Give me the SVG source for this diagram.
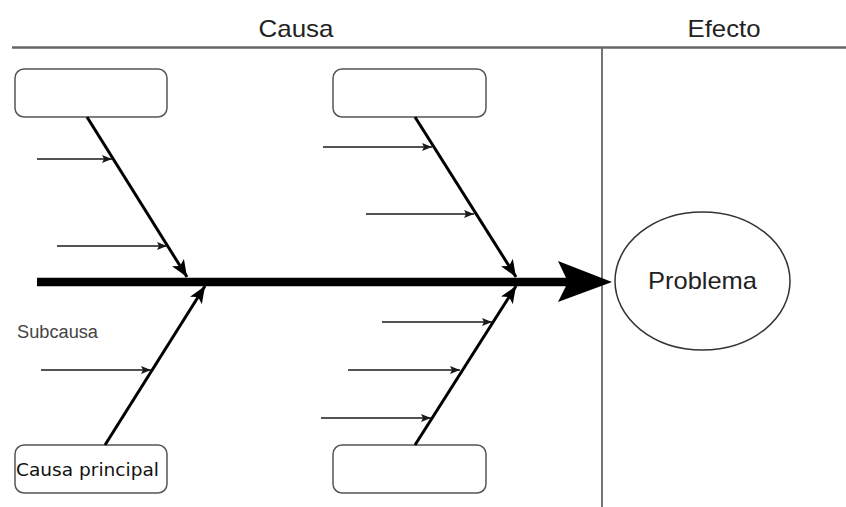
<svg xmlns="http://www.w3.org/2000/svg" width="846" height="507" viewBox="0 0 846 507">
  <defs>
    <style>
      .heading { font-family: "Liberation Sans", Arial, sans-serif; font-size: 24px; fill: #222; }
      .box { fill: #fff; stroke: #555; stroke-width: 1.5; }
      .bone { stroke: #000; stroke-width: 3; fill: none; marker-end: url(#boneHead); }
      .sub { stroke: #1a1a1a; stroke-width: 1.6; fill: none; marker-end: url(#subHead); }
      .rule { stroke: #666; fill: none; }
    </style>
    <marker id="boneHead" markerUnits="userSpaceOnUse" markerWidth="18" markerHeight="14" refX="17" refY="7" orient="auto">
      <path d="M0,0 L17,7 L0,14 L4,7 z" fill="#000"/>
    </marker>
    <marker id="subHead" markerUnits="userSpaceOnUse" markerWidth="11" markerHeight="8" refX="10" refY="4" orient="auto">
      <path d="M0,0 L10,4 L0,8 L2,4 z" fill="#1a1a1a"/>
    </marker>
  </defs>

  <rect width="846" height="507" fill="#fff"/>

  <!-- section header -->
  <g id="header">
    <text class="heading" x="296" y="37" text-anchor="middle" textLength="75" lengthAdjust="spacingAndGlyphs">Causa</text>
    <text class="heading" x="724" y="37" text-anchor="middle" textLength="73" lengthAdjust="spacingAndGlyphs">Efecto</text>
    <line class="rule" x1="12" y1="47.5" x2="846" y2="47.5" stroke-width="2.5"/>
    <line class="rule" x1="602" y1="47" x2="602" y2="507" stroke-width="1.8" stroke="#555"/>
  </g>

  <!-- main cause boxes -->
  <g id="cause-top-left">
    <rect class="box" x="15" y="69" width="152" height="48" rx="9"/>
  </g>
  <g id="cause-top-mid">
    <rect class="box" x="333" y="69" width="153" height="48" rx="9"/>
  </g>
  <g id="cause-bottom-left">
    <rect class="box" x="15" y="445" width="152" height="48" rx="9"/>
    <text x="16" y="476" font-family="'DejaVu Sans', sans-serif" font-size="18" fill="#111" textLength="143" lengthAdjust="spacingAndGlyphs">Causa principal</text>
  </g>
  <g id="cause-bottom-mid">
    <rect class="box" x="333" y="445" width="153" height="48" rx="9"/>
  </g>

  <!-- effect -->
  <g id="problem">
    <ellipse cx="702.5" cy="281" rx="87.5" ry="69" fill="#fff" stroke="#333" stroke-width="1.5"/>
    <text x="702.5" y="289" text-anchor="middle" font-family="'Liberation Sans', Arial, sans-serif" font-size="24" fill="#222" textLength="109" lengthAdjust="spacingAndGlyphs">Problema</text>
  </g>

  <g id="subcause-label">
    <text x="17" y="338" font-family="'Liberation Sans', Arial, sans-serif" font-size="18" fill="#444" textLength="81" lengthAdjust="spacingAndGlyphs">Subcausa</text>
  </g>

  <!-- spine, bones and sub-cause arrows -->
  <g id="connectors">
    <line x1="37" y1="282" x2="568" y2="282" stroke="#000" stroke-width="8.5"/>
    <path d="M612,282 L558,261 L568,282 L558,302 z" fill="#000"/>

    <line class="bone" x1="87" y1="117" x2="187" y2="277"/>
    <line class="bone" x1="415" y1="117" x2="516" y2="277"/>
    <line class="bone" x1="105" y1="445" x2="205" y2="286"/>
    <line class="bone" x1="415" y1="445" x2="516" y2="286"/>

    <line class="sub" x1="37" y1="159" x2="112" y2="159"/>
    <line class="sub" x1="57" y1="246" x2="167" y2="246"/>
    <line class="sub" x1="323" y1="147" x2="432" y2="147"/>
    <line class="sub" x1="366" y1="214" x2="474" y2="214"/>
    <line class="sub" x1="41" y1="370" x2="151" y2="370"/>
    <line class="sub" x1="382" y1="322" x2="492" y2="322"/>
    <line class="sub" x1="348" y1="370" x2="460" y2="370"/>
    <line class="sub" x1="321" y1="418" x2="431" y2="418"/>
  </g>
</svg>
